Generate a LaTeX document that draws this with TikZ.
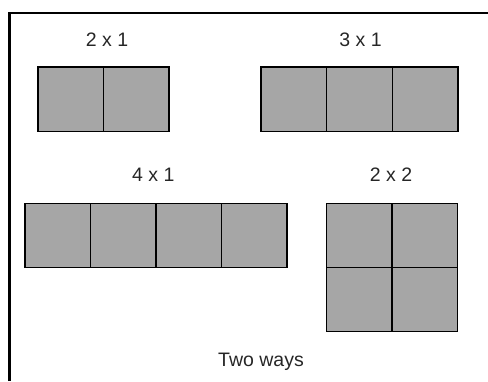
\documentclass[tikz,border=0pt]{standalone}
\usepackage{fontspec}
\setmainfont{Liberation Sans}
\definecolor{cellgray}{RGB}{166,166,166}
\begin{document}
\begin{tikzpicture}[x=1pt,y=-1pt,
  cell/.style={draw=black,fill=cellgray,line width=1.1pt},
  lbl/.style={anchor=base,inner sep=0pt,font=\fontsize{19.5}{23}\selectfont,text=black!85}]
\useasboundingbox (0,0) rectangle (488,381);
% frame
\draw[line width=2.6pt] (9.5,381) -- (9.5,13) -- (488,13);
% 2 x 1
\draw[cell] (38,67) rectangle (103.5,131.5);
\draw[cell] (103.5,67) rectangle (169,131.5);
\node[lbl] (l21) at (107,46.7) {2 x 1};
% 3 x 1
\draw[cell] (261,67) rectangle (326.7,131.5);
\draw[cell] (326.7,67) rectangle (392.3,131.5);
\draw[cell] (392.3,67) rectangle (458,131.5);
\node[lbl] (l31) at (360.5,46.7) {3 x 1};
% 4 x 1
\draw[cell] (25,203.3) rectangle (90.5,267.3);
\draw[cell] (90.5,203.3) rectangle (156,267.3);
\draw[cell] (156,203.3) rectangle (221.5,267.3);
\draw[cell] (221.5,203.3) rectangle (287,267.3);
\node[lbl] (l41) at (153.3,181) {4 x 1};
% 2 x 2
\draw[cell] (326.7,203.3) rectangle (392,267.3);
\draw[cell] (392,203.3) rectangle (457.7,267.3);
\draw[cell] (326.7,267.3) rectangle (392,331.7);
\draw[cell] (392,267.3) rectangle (457.7,331.7);
\node[lbl] (l22) at (391,181.5) {2 x 2};
\node[lbl] (two) at (261,366.7) {Two ways};
\end{tikzpicture}
\end{document}
